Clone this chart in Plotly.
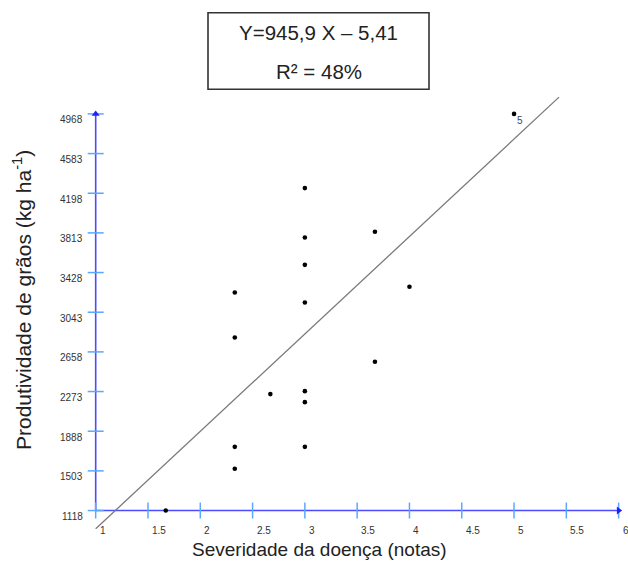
import plotly.graph_objects as go

# ---------------- data ----------------
severidade = [1.67, 2.33, 2.33, 2.33, 2.33, 2.67, 3, 3, 3, 3, 3, 3, 3, 3.67, 3.67, 4, 5]
produtividade = [1118, 1523, 1736, 2797, 3234, 2248, 1736, 2170, 2277, 3137, 3503, 3768, 4248, 2562, 3824, 3290, 4968]
point_labels = [""] * 16 + ["5"]

reg_slope = 945.9
reg_intercept = -5.41
reg_x = [1.0, 5.43]

x_ticks = [1, 1.5, 2, 2.5, 3, 3.5, 4, 4.5, 5, 5.5, 6]
x_tick_labels = ["1", "1.5", "2", "2.5", "3", "3.5", "4", "4.5", "5", "5.5", "6"]
y_ticks = [1118, 1503, 1888, 2273, 2658, 3043, 3428, 3813, 4198, 4583, 4968]
y_tick_labels = [str(v) for v in y_ticks]

eq_text = "Y=945,9 X \u2013 5,41"
r2_text = "R\u00b2 = 48%"
x_title = "Severidade da doença (notas)"
y_title = "Produtividade de grãos (kg ha<sup>-1</sup>)"

# ---------------- layout geometry ----------------
W, H = 628, 561
ML, MR, MT, MB = 80, 1, 90, 28
PW, PH = W - ML - MR, H - MT - MB
X_RANGE = [0.85, 6.08]
Y_RANGE = [900, 5200]


def px_to_paper_x(px):
    return (px - ML) / PW


def px_to_paper_y(py):
    return (H - MB - py) / PH


FONT = "Liberation Sans, Arial, sans-serif"
AXIS_BLUE = "#4b4bff"
TICK_BLUE = "#5aa8ff"

x0, y0 = x_ticks[0], y_ticks[0]
x_end, y_end = x_ticks[-1], y_ticks[-1]

fig = go.Figure()

# regression line
fig.add_trace(go.Scatter(
    x=reg_x, y=[reg_slope * v + reg_intercept for v in reg_x],
    mode="lines", line=dict(color="#7a7a7a", width=1.3),
    hoverinfo="skip", showlegend=False))

# data points
fig.add_trace(go.Scatter(
    x=severidade, y=produtividade, mode="markers",
    marker=dict(color="black", size=4.6),
    showlegend=False, cliponaxis=False))

# axis arrows
fig.add_trace(go.Scatter(
    x=[x0, x_end], y=[y_end, y0], mode="markers",
    marker=dict(symbol=["triangle-up", "triangle-right"], size=7, color="#2020ff"),
    showlegend=False, cliponaxis=False, hoverinfo="skip"))

shapes = []
# axis lines
shapes.append(dict(type="line", xref="x", yref="y", x0=x0, x1=x_end, y0=y0, y1=y0,
                   line=dict(color=AXIS_BLUE, width=1.6), layer="below"))
shapes.append(dict(type="line", xref="x", yref="y", x0=x0, x1=x0, y0=y0, y1=y_end,
                   line=dict(color=AXIS_BLUE, width=1.6), layer="below"))
# tick marks crossing the axes
for t in x_ticks:
    shapes.append(dict(type="line", xref="x", yref="y", ysizemode="pixel", yanchor=y0,
                       x0=t, x1=t, y0=-8, y1=8,
                       line=dict(color=TICK_BLUE, width=1.5), layer="below"))
for t in y_ticks:
    shapes.append(dict(type="line", xref="x", yref="y", xsizemode="pixel", xanchor=x0,
                       x0=-8, x1=8, y0=t, y1=t,
                       line=dict(color=TICK_BLUE, width=1.5), layer="below"))
# equation box
shapes.append(dict(type="rect", xref="paper", yref="paper",
                   x0=px_to_paper_x(208), x1=px_to_paper_x(429),
                   y0=px_to_paper_y(89.3), y1=px_to_paper_y(12.7),
                   line=dict(color="#333333", width=1.6)))

annotations = []
for t, lab in zip(x_ticks, x_tick_labels):
    annotations.append(dict(x=t, y=y0, xref="x", yref="y", text=lab, showarrow=False,
                            xanchor="left", yanchor="middle", xshift=2, yshift=-19.5,
                            font=dict(family=FONT, size=10, color="#333333")))
for t, lab in zip(y_ticks, y_tick_labels):
    annotations.append(dict(x=x0, y=t, xref="x", yref="y", text=lab, showarrow=False,
                            xanchor="right", yanchor="middle", xshift=-11, yshift=-6,
                            font=dict(family=FONT, size=10, color="#333333")))
for sx, sy, lab in zip(severidade, produtividade, point_labels):
    if lab:
        annotations.append(dict(x=sx, y=sy, xref="x", yref="y", text=lab, showarrow=False,
                                xanchor="center", yanchor="middle", xshift=6, yshift=-6.5,
                                font=dict(family=FONT, size=10, color="#3b4a66")))
# equation text
annotations.append(dict(x=px_to_paper_x(318.5), y=px_to_paper_y(33), xref="paper", yref="paper",
                        text=eq_text, showarrow=False, xanchor="center", yanchor="middle",
                        font=dict(family=FONT, size=20.5, color="#222222")))
annotations.append(dict(x=px_to_paper_x(318.5), y=px_to_paper_y(71.7), xref="paper", yref="paper",
                        text=r2_text, showarrow=False, xanchor="center", yanchor="middle",
                        font=dict(family=FONT, size=20.5, color="#222222")))
# axis titles
annotations.append(dict(x=px_to_paper_x(319), y=px_to_paper_y(549), xref="paper", yref="paper",
                        text=x_title, showarrow=False, xanchor="center", yanchor="middle",
                        font=dict(family=FONT, size=19, color="#222222")))
annotations.append(dict(x=px_to_paper_x(22), y=px_to_paper_y(300), xref="paper", yref="paper",
                        text=y_title, showarrow=False, xanchor="center", yanchor="middle",
                        textangle=-90,
                        font=dict(family=FONT, size=21, color="#222222")))

fig.update_layout(
    width=W, height=H,
    margin=dict(l=ML, r=MR, t=MT, b=MB),
    paper_bgcolor="white", plot_bgcolor="white",
    xaxis=dict(range=X_RANGE, showgrid=False, zeroline=False, showline=False,
               showticklabels=False, ticks=""),
    yaxis=dict(range=Y_RANGE, showgrid=False, zeroline=False, showline=False,
               showticklabels=False, ticks=""),
    shapes=shapes, annotations=annotations,
    showlegend=False,
)

fig.write_html("out.html", config={"displayModeBar": False},
               post_script="document.body.style.margin='0';document.body.style.overflow='hidden';")
